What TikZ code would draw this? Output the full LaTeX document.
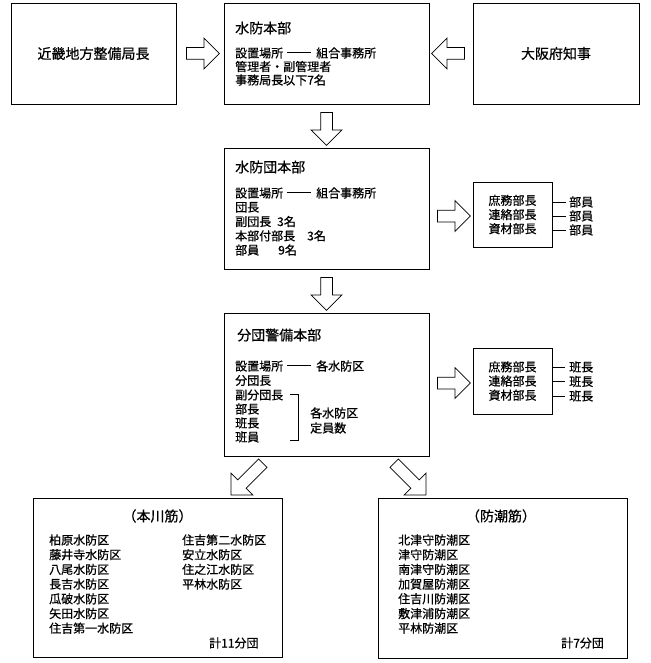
\documentclass[tikz,border=0pt]{standalone}
\usepackage{fontspec}
\setmainfont[FakeBold=0.6]{Noto Sans CJK JP}
\usetikzlibrary{shapes.arrows,calc}
\newcommand{\linkrule}{\hspace{4pt}\raisebox{4.3pt}{\rule{24pt}{0.8pt}}\hspace{5pt}}
\tikzset{
  box/.style={draw, line width=0.8pt, inner sep=0pt},
  fat/.style={single arrow, draw, fill=white, line width=0.75pt, inner xsep=0pt, inner ysep=5.5pt,
    minimum width=30pt, minimum height=33pt, single arrow head extend=9.5pt,
    single arrow tip angle=90, single arrow head indent=0pt},
  titletxt/.style={font=\fontsize{14}{16}\selectfont, inner sep=0pt, anchor=west},
  txt/.style={font=\fontsize{12}{14}\selectfont, inner sep=0pt, anchor=west},
  sidetxt/.style={font=\fontsize{12}{14.2}\selectfont, align=center},
  tick/.style={line width=0.8pt}
}
\begin{document}
\begin{tikzpicture}[x=1pt,y=-1pt]
\useasboundingbox (0,0) rectangle (650,663);

% boxes
\node[box, minimum width=165, minimum height=101, font=\fontsize{14}{16}\selectfont] (kinki) at (93.5,53.5) {近畿地方整備局長};
\node[box, minimum width=205, minimum height=101] (hq) at (326.5,53.5) {};
\node[box, minimum width=166, minimum height=101, font=\fontsize{14}{16}\selectfont] (osaka) at (556,53.5) {大阪府知事};
\node[box, minimum width=205, minimum height=121] (dan) at (326.5,208.5) {};
\node[box, sidetxt, minimum width=79, minimum height=65] (side1) at (512.5,214.5) {庶務部長\\連絡部長\\資材部長};
\node[box, minimum width=205, minimum height=143] (bun) at (326.5,384.5) {};
\node[box, sidetxt, minimum width=79, minimum height=66] (side2) at (512.5,381) {庶務部長\\連絡部長\\資材部長};
\node[box, minimum width=249, minimum height=159] (honkawa) at (157.5,577.5) {};
\node[box, minimum width=249, minimum height=160] (bocho) at (502.5,578) {};

% hq text
\node[titletxt] (hqt) at (235,28) {水防本部};
\node[txt] (hq1) at (235,53) {設置場所\linkrule 組合事務所};
\node[txt] (hq2) at (235,66.5) {管理者・副管理者};
\node[txt] (hq3) at (235,80) {事務局長以下7名};

% dan text
\node[titletxt] (dant) at (235,167) {水防団本部};
\node[txt] (dan1) at (235,193) {設置場所\linkrule 組合事務所};
\node[txt] (dan2) at (235,207.3) {団長};
\node[txt] (dan3) at (235,221.5) {副団長\hspace{6pt}3名};
\node[txt] (dan4) at (235,235.8) {本部付部長\hspace{12pt}3名};
\node[txt] (dan5) at (235,250) {部員\hspace{19pt}9名};

% bun text
\node[titletxt] (bunt) at (237,335) {分団警備本部};
\node[txt] (bun1) at (235,366) {設置場所\linkrule 各水防区};
\node[txt] (bun2) at (235,380.5) {分団長};
\node[txt] (bun3) at (235,395) {副分団長};
\node[txt] (bun4) at (235,409) {部長};
\node[txt] (bun5) at (235,423) {班長};
\node[txt] (bun6) at (235,437) {班員};
\draw[tick] (290,394) -- (298,394) -- (298,440) -- (290,440);
\node[txt] (bun7) at (310,413) {各水防区};
\node[txt] (bun8) at (310,428) {定員数};

% side ticks
\foreach \yy/\i in {202/1,216/2,230/3}{
  \coordinate (s1a\i) at (552,\yy);
  \node[txt] (s1m\i) at (569,\yy) {部員};
  \draw[tick] (s1a\i) -- ++(14,0);
}
\foreach \yy/\i in {367/1,381.5/2,396/3}{
  \coordinate (s2a\i) at (552,\yy);
  \node[txt] (s2m\i) at (569,\yy) {班長};
  \draw[tick] (s2a\i) -- ++(13,0);
}

% bottom boxes
\node[font=\fontsize{14}{16}\selectfont, inner sep=0pt] (hkt) at (157.5,516) {（本川筋）};
\foreach \t [count=\i] in {柏原水防区,藤井寺水防区,八尾水防区,長吉水防区,瓜破水防区,矢田水防区,住吉第一水防区}{
  \node[txt] (hkl\i) at (49,540+14.7*\i-14.7) {\t};
}
\foreach \t [count=\i] in {住吉第二水防区,安立水防区,住之江水防区,平林水防区}{
  \node[txt] (hkr\i) at (182,540+14.7*\i-14.7) {\t};
}
\node[txt] (hksum) at (209,643) {計11分団};

\node[font=\fontsize{14}{16}\selectfont, inner sep=0pt] (bct) at (501,516) {（防潮筋）};
\foreach \t [count=\i] in {北津守防潮区,津守防潮区,南津守防潮区,加賀屋防潮区,住吉川防潮区,敷津浦防潮区,平林防潮区}{
  \node[txt] (bcl\i) at (398,540+14.7*\i-14.7) {\t};
}
\node[txt] (bcsum) at (561,643) {計7分団};

% fat arrows
\node[fat] (a1) at ($(kinki.east)!0.5!(hq.west)$) {};
\node[fat, rotate=180] (a2) at ($(hq.east)!0.5!(osaka.west)$) {};
\node[fat, rotate=-90] (a3) at ($(hq.south)!0.5!(dan.north)$) {};
\node[fat, rotate=-90] (a4) at ($(dan.south)!0.5!(bun.north)$) {};
\node[fat] (a5) at ($(dan.east |- side1.center)!0.5!(side1.west)+(0,1.5)$) {};
\node[fat] (a6) at ($(bun.east |- side2.center)!0.5!(side2.west)+(0,2)$) {};
\node[fat, rotate=-135, minimum height=45, minimum width=31] (a7) at (249,477) {};
\node[fat, rotate=-45, minimum height=45, minimum width=31] (a8) at (408,477) {};
\end{tikzpicture}
\end{document}
